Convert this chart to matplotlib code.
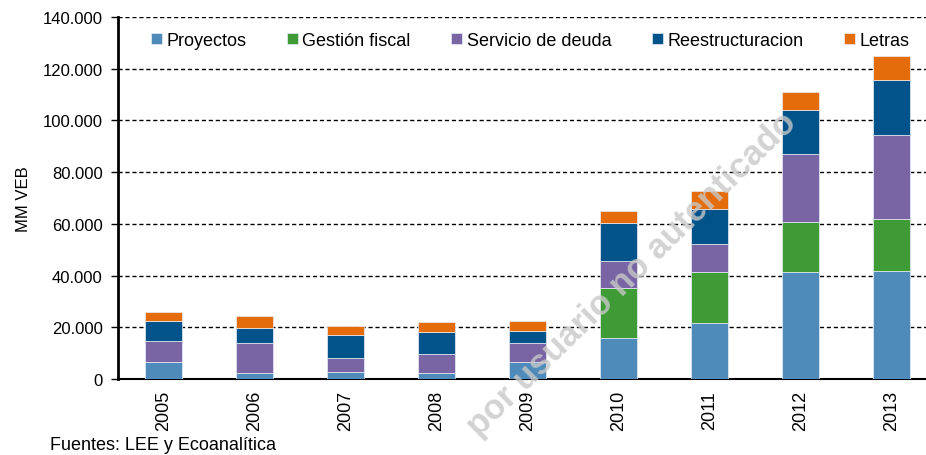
import numpy as np
import matplotlib
matplotlib.use('Agg')
from matplotlib import pyplot as plt
from matplotlib.ticker import FuncFormatter

plt.rcParams['font.family'] = ['Liberation Sans', 'DejaVu Sans']

years = ['2005', '2006', '2007', '2008', '2009', '2010', '2011', '2012', '2013']

# MM VEB
proyectos = [6500, 2200, 2600, 2200, 6500, 15700, 21500, 41300, 41800]
gestion_fiscal = [0, 0, 0, 0, 0, 19400, 19800, 19500, 20100]
servicio_deuda = [8100, 11700, 5500, 7500, 7500, 10400, 11000, 26300, 32600]
reestructuracion = [8000, 5900, 9000, 8600, 4400, 14700, 13300, 16800, 21300]
letras = [3500, 4500, 3400, 3900, 3900, 4900, 7200, 7100, 9300]

series = [
    ('Proyectos', proyectos, '#4f8bba'),
    ('Gestión fiscal', gestion_fiscal, '#3f9b35'),
    ('Servicio de deuda', servicio_deuda, '#7a65a4'),
    ('Reestructuracion', reestructuracion, '#01538a'),
    ('Letras', letras, '#e46c0a'),
]

fig = plt.figure(figsize=(9.26, 4.56), dpi=100)
ax = fig.add_axes([118 / 926, 1 - 380 / 456, 1 - 118 / 926, (380 - 18) / 456])

x = np.arange(len(years))
bottom = np.zeros(len(years))
for name, vals, color in series:
    vals = np.array(vals, dtype=float)
    ax.bar(x, vals, width=0.4, bottom=bottom, color=color, label=name,
           edgecolor='#e8eef5', linewidth=0.5, zorder=3)
    bottom += vals

ax.set_ylim(0, 140000)
ax.set_xlim(-0.5, -0.5 + 808 / 91)
ax.set_yticks(np.arange(0, 140001, 20000))
ax.yaxis.set_major_formatter(FuncFormatter(lambda v, p: f'{int(v):,}'.replace(',', '.')))
ax.set_xticks(x)
ax.set_xticklabels(years, rotation=90, fontsize=13)
ax.tick_params(axis='y', labelsize=12, length=5, width=1, direction='out', pad=6)
ax.tick_params(axis='x', length=0, pad=8)

ax.grid(axis='y', color='black', linestyle=(0, (3, 2)), linewidth=1, zorder=1)
for s in ['top', 'right']:
    ax.spines[s].set_visible(False)
ax.spines['left'].set_linewidth(2)
ax.spines['bottom'].set_linewidth(1.5)

ax.set_ylabel('MM VEB', fontsize=12, labelpad=8)

ax.legend(loc='center left', bbox_to_anchor=(0.041, 0.935), ncol=5, frameon=False,
          fontsize=13, handlelength=0.6, handleheight=0.6, handletextpad=0.25,
          columnspacing=2.25, borderpad=0, borderaxespad=0)

fig.text(50 / 926, 1 - 446 / 456, 'Fuentes: LEE y Ecoanalítica', fontsize=13, va='center')

# watermark
fig.text(632 / 926, 1 - 275 / 456, 'por usuario no autenticado', fontsize=25,
         fontweight='bold', color='#c8c8c8', alpha=0.8, rotation=44.5,
         ha='center', va='center', zorder=10)

fig.savefig('out.png', dpi=100)
